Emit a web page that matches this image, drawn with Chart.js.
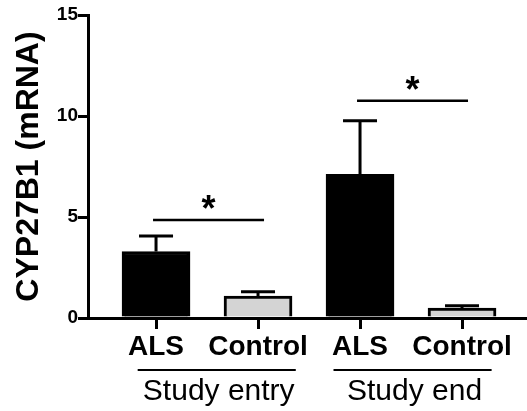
<!DOCTYPE html>
<html>
<head>
<meta charset="utf-8">
<script src="https://cdn.jsdelivr.net/npm/chart.js@4/dist/chart.umd.min.js"></script>
<style>
  html, body { margin: 0; padding: 0; background: #fff; }
  #wrap { width: 527px; height: 411px; }
</style>
</head>
<body>
<div id="wrap"><canvas id="chart" width="527" height="411"></canvas></div>
<script>
// data
const groups = ['Study entry', 'Study end'];
const labels = ['ALS', 'Control', 'ALS', 'Control'];
const positions = [1, 2, 3, 4];
const means = [3.29, 1.09, 7.11, 0.49];
const sems = [0.77, 0.21, 2.66, 0.12];
const yTicks = [0, 5, 10, 15];
// significance: [from bar, to bar, height of line]
const sigPairs = [[0, 1, 4.85], [2, 3, 10.75]];
// group underline spans (in x positions)
const groupSpans = [[0.82, 2.37], [2.74, 4.29]];

const fam = '"Liberation Sans", Arial, sans-serif';
const colors = labels.map(l => l === 'ALS' ? '#000000' : '#d4d4d4');

const extras = {
  id: 'extras',
  afterDatasetsDraw(chart) {
    const { ctx, scales: { x, y } } = chart;
    ctx.save();
    ctx.strokeStyle = '#000';
    ctx.fillStyle = '#000';
    ctx.lineWidth = 3;
    // error bars (upper only)
    means.forEach((m, i) => {
      const cx = x.getPixelForValue(positions[i]);
      const y0 = y.getPixelForValue(m);
      const y1 = y.getPixelForValue(m + sems[i]);
      ctx.beginPath();
      ctx.moveTo(cx, y0);
      ctx.lineTo(cx, y1);
      ctx.moveTo(cx - 17, y1);
      ctx.lineTo(cx + 17, y1);
      ctx.stroke();
    });
    // significance lines + stars
    ctx.lineWidth = 2.5;
    sigPairs.forEach(([a, b, h]) => {
      const xa = x.getPixelForValue(positions[a]) - 3;
      const xb = x.getPixelForValue(positions[b]) + 6;
      const yy = y.getPixelForValue(h);
      ctx.beginPath();
      ctx.moveTo(xa, yy);
      ctx.lineTo(xb, yy);
      ctx.stroke();
      ctx.font = 'bold 36px ' + fam;
      ctx.textAlign = 'center';
      ctx.textBaseline = 'alphabetic';
      ctx.fillText('*', (xa + xb) / 2, yy + 1);
    });
    // group lines + labels
    ctx.lineWidth = 2;
    groupSpans.forEach(([s, e], i) => {
      const xs = x.getPixelForValue(s);
      const xe = x.getPixelForValue(e);
      ctx.beginPath();
      ctx.moveTo(xs, 370);
      ctx.lineTo(xe, 370);
      ctx.stroke();
      ctx.font = '30px ' + fam;
      ctx.textAlign = 'center';
      ctx.textBaseline = 'alphabetic';
      ctx.fillText(groups[i], (xs + xe) / 2 + 2, 400);
    });
    ctx.restore();
  }
};

const ctx = document.getElementById('chart').getContext('2d');
const chart = new Chart(ctx, {
  type: 'bar',
  data: {
    datasets: [{
      data: positions.map((p, i) => ({ x: p, y: means[i] })),
      backgroundColor: colors,
      borderColor: '#000',
      borderWidth: 3,
      borderSkipped: 'bottom',
      barThickness: 68,
    }],
  },
  options: {
    responsive: false,
    animation: false,
    devicePixelRatio: 1,
    layout: { padding: { top: 15, right: 0, left: 0, bottom: 0 } },
    plugins: { legend: { display: false }, tooltip: { enabled: false } },
    scales: {
      x: {
        type: 'linear',
        offset: false,
        min: 0.333,
        max: 4.637,
        afterBuildTicks: s => { s.ticks = positions.map(v => ({ value: v })); },
        afterFit: s => { s.height = 93; },
        border: { display: true, color: '#000', width: 3 },
        grid: { offset: false, drawOnChartArea: false, drawTicks: true, tickLength: 11, color: '#000', lineWidth: 3 },
        ticks: {
          autoSkip: false,
          maxRotation: 0,
          padding: 1,
          color: '#000',
          font: { family: fam, size: 28, weight: 'bold' },
          callback: v => labels[positions.indexOf(v)] || '',
        },
      },
      y: {
        min: 0,
        max: 15,
        afterBuildTicks: s => { s.ticks = yTicks.map(v => ({ value: v })); },
        afterFit: s => { s.width = 88; },
        border: { display: true, color: '#000', width: 3 },
        grid: { drawOnChartArea: false, drawTicks: true, tickLength: 10, color: '#000', lineWidth: 3 },
        ticks: {
          padding: 0,
          color: '#000',
          font: { family: fam, size: 19, weight: 'bold' },
        },
        title: {
          display: true,
          text: 'CYP27B1 (mRNA)',
          color: '#000',
          padding: { top: 10, bottom: 0 },
          font: { family: fam, size: 32, weight: 'bold' },
        },
      },
    },
  },
  plugins: [extras],
});
</script>
</body>
</html>
